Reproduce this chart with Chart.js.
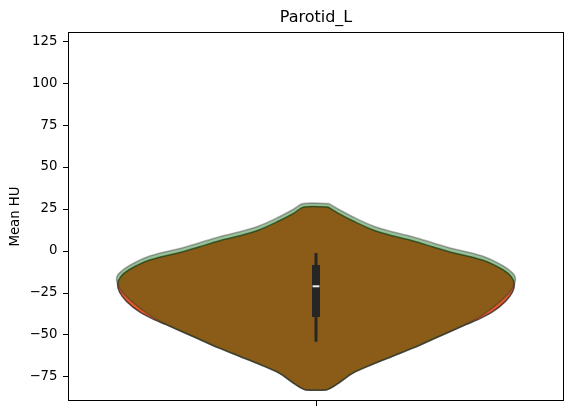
<!DOCTYPE html>
<html>
<head>
<meta charset="utf-8">
<script src="https://cdn.jsdelivr.net/npm/chart.js@4.4.1/dist/chart.umd.min.js"></script>
<style>
  html, body { margin: 0; padding: 0; background: #ffffff; }
  #wrap { width: 574px; height: 416px; }
</style>
</head>
<body>
<div id="wrap"><canvas id="c" width="574" height="416"></canvas></div>
<script>
// ---- data ----
const chartTitle = 'Parotid_L';
const yAxisLabel = 'Mean HU';
const yTicks = [-75, -50, -25, 0, 25, 50, 75, 100, 125];

// violin 1 (orange, underneath): Mean HU values and relative half-width (density)
const orangeY = [26.2, 22.6, 17.9, 12.5, 8.9, 6.0, 2.4, -0.3, -5.4, -11.3, -15.5, -20.0, -24.5, -30.0, -36.3, -41.0, -44.0, -52.4, -57.7, -62.5, -67.3, -72.6, -78.0, -81.5, -82.7];
const orangeW = [0.061, 0.111, 0.187, 0.288, 0.389, 0.490, 0.591, 0.667, 0.838, 0.944, 0.985, 1.000, 0.990, 0.955, 0.889, 0.813, 0.753, 0.591, 0.490, 0.389, 0.288, 0.187, 0.121, 0.076, 0.051];

// violin 2 (green, translucent on top)
const greenY = [28.2, 25.0, 20.3, 14.9, 11.3, 8.4, 4.8, 2.1, -3.0, -8.9, -13.0, -16.0, -19.5, -24.0, -30.0, -36.5, -41.0, -44.0, -52.4, -57.7, -62.5, -67.3, -72.6, -78.0, -81.5, -82.7];
const greenW = [0.066, 0.111, 0.187, 0.288, 0.389, 0.490, 0.591, 0.667, 0.838, 0.944, 0.990, 1.005, 1.000, 0.980, 0.929, 0.859, 0.800, 0.748, 0.591, 0.490, 0.389, 0.288, 0.187, 0.121, 0.076, 0.051];

// inner box plot
const whiskerLow = -54.0;
const whiskerHigh = -1.2;
const q1 = -39.3;
const q3 = -8.3;
const median = -21.0;

// ---- build closed violin outlines from the arrays ----
function violinPath(ys, ws) {
  const pts = [];
  for (let i = 0; i < ys.length; i++) pts.push({ x: ws[i], y: ys[i] });
  for (let i = ys.length - 1; i >= 0; i--) pts.push({ x: -ws[i], y: ys[i] });
  pts.push({ x: ws[0], y: ys[0] });
  return pts;
}

const frame = {
  id: 'frame',
  afterDatasetsDraw(chart) {
    const a = chart.chartArea, ctx = chart.ctx;
    ctx.save();
    ctx.strokeStyle = '#000';
    ctx.lineWidth = 1;
    ctx.strokeRect(Math.round(a.left) + 0.5, Math.round(a.top) + 0.5,
                   Math.round(a.right - a.left) - 1, Math.round(a.bottom - a.top) - 1);
    ctx.restore();
  }
};

const FONT = "'DejaVu Sans', sans-serif";

new Chart(document.getElementById('c'), {
  type: 'scatter',
  data: {
    datasets: [
      {
        label: 'median',
        data: [{ x: 0, y: median }],
        showLine: false,
        pointStyle: 'line',
        pointRadius: 3.4,
        pointBorderWidth: 2,
        pointBorderColor: '#f2f2f2',
        order: 0
      },
      {
        label: 'box',
        data: [{ x: 0, y: q1 }, { x: 0, y: q3 }],
        showLine: true,
        borderColor: '#262626',
        borderWidth: 8,
        borderCapStyle: 'butt',
        pointRadius: 0,
        order: 1
      },
      {
        label: 'whisker',
        data: [{ x: 0, y: whiskerLow }, { x: 0, y: whiskerHigh }],
        showLine: true,
        borderColor: '#262626',
        borderWidth: 3,
        borderCapStyle: 'butt',
        pointRadius: 0,
        order: 2
      },
      {
        label: 'green',
        data: violinPath(greenY, greenW),
        showLine: true,
        fill: 'shape',
        backgroundColor: 'rgba(0,100,0,0.4)',
        borderColor: 'rgba(50,50,50,0.4)',
        borderWidth: 1.6,
        tension: 0.35,
        pointRadius: 0,
        order: 3
      },
      {
        label: 'orange',
        data: violinPath(orangeY, orangeW),
        showLine: true,
        fill: 'shape',
        backgroundColor: 'rgb(232,88,40)',
        borderColor: 'rgba(40,40,40,0.75)',
        borderWidth: 1.5,
        tension: 0.35,
        pointRadius: 0,
        order: 4
      }
    ]
  },
  options: {
    responsive: false,
    animation: false,
    events: [],
    layout: { padding: { left: 0, right: 10, top: 0, bottom: 0 } },
    plugins: {
      legend: { display: false },
      tooltip: { enabled: false },
      title: {
        display: true,
        text: chartTitle,
        fullSize: false,
        color: '#000',
        font: { family: FONT, size: 16, weight: 'normal' },
        padding: { top: 8, bottom: 4.8 }
      }
    },
    scales: {
      x: {
        type: 'linear',
        min: -1.25,
        max: 1.25,
        border: { display: false },
        grid: { drawOnChartArea: false, drawTicks: true, tickLength: 5, color: '#000', lineWidth: 1 },
        ticks: { callback: () => '', font: { family: FONT, size: 13.3 } },
        afterBuildTicks: (s) => { s.ticks = [{ value: 0 }]; },
        afterFit: (s) => { s.height = 15; }
      },
      y: {
        type: 'linear',
        min: -89.3,
        max: 130.4,
        border: { display: false },
        grid: { drawOnChartArea: false, drawTicks: true, tickLength: 5, color: '#000', lineWidth: 1 },
        ticks: {
          color: '#000',
          padding: 5.5,
          font: { family: FONT, size: 13.3 },
          callback: (v) => String(v).replace('-', '\u2212')
        },
        afterBuildTicks: (s) => { s.ticks = yTicks.map(v => ({ value: v })); },
        afterFit: (s) => { s.width = 68; },
        title: {
          display: true,
          text: yAxisLabel,
          color: '#000',
          font: { family: FONT, size: 13.3 },
          padding: { top: 7.5, bottom: 0 }
        }
      }
    }
  },
  plugins: [frame]
});
</script>
</body>
</html>
